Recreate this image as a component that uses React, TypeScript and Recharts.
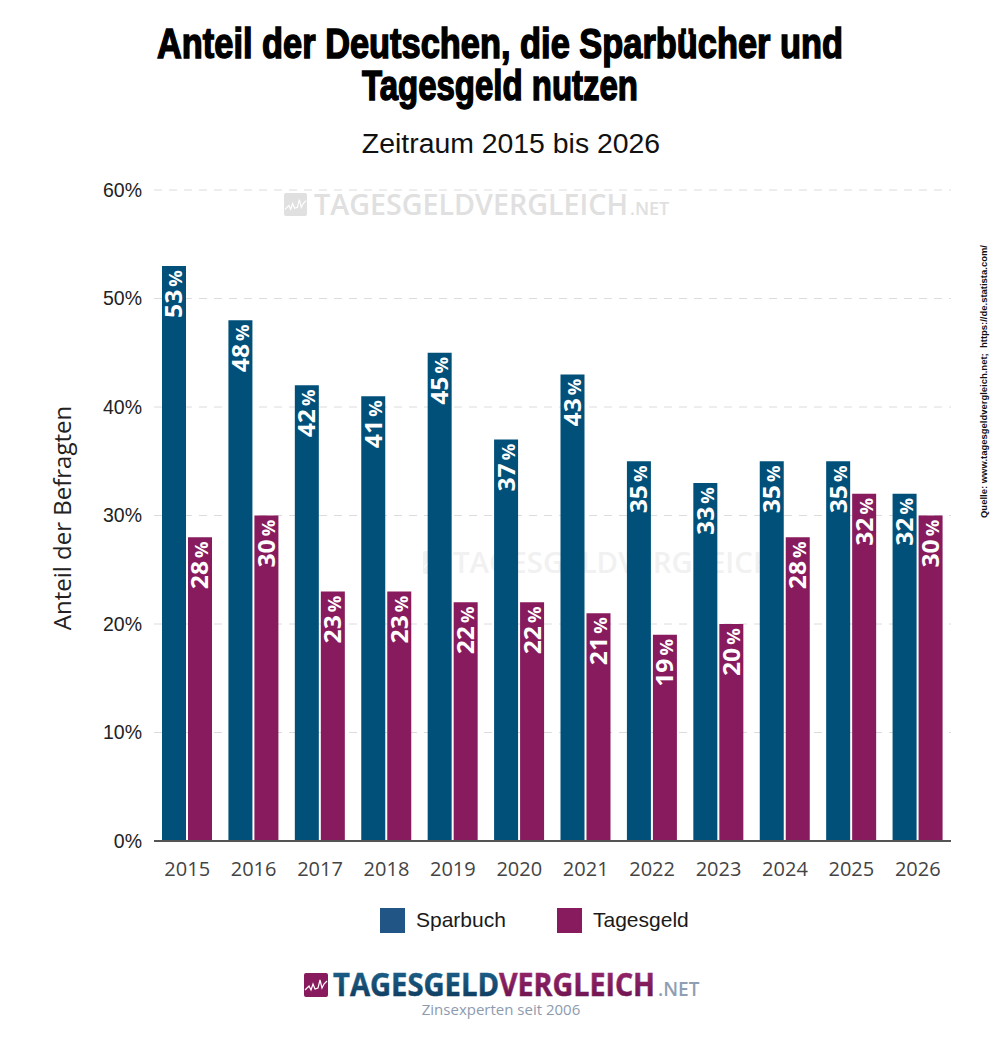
import { BarChart, Bar, XAxis, YAxis, CartesianGrid, LabelList, Legend } from 'recharts';

const YEARS = ['2015', '2016', '2017', '2018', '2019', '2020', '2021', '2022', '2023', '2024', '2025', '2026'];
const SPARBUCH = [53, 48, 42, 41, 45, 37, 43, 35, 33, 35, 35, 32];
const TAGESGELD = [28, 30, 23, 23, 22, 22, 21, 19, 20, 28, 32, 30];
const Y_TICKS = [0, 10, 20, 30, 40, 50, 60];

const BAR_BLUE = '#00507a';
const BAR_PURPLE = '#871b5d';
const LEGEND_ITEMS = [
  { name: 'Sparbuch', color: '#205585' },
  { name: 'Tagesgeld', color: '#871b5d' },
];

const data = YEARS.map((year, i) => ({
  year,
  Sparbuch: SPARBUCH[i],
  Tagesgeld: TAGESGELD[i],
}));

const ARIAL = '"Liberation Sans", Arial, sans-serif';
const OPEN = '"Open Sans", sans-serif';
const NARROW = '"Liberation Sans Narrow", "Liberation Sans", sans-serif';

function BarLabel({ x, y, width, value }: any) {
  const cx = x + width / 2 + 8.5;
  const top = y + 4;
  return (
    <text
      x={cx}
      y={top}
      transform={`rotate(-90 ${cx} ${top})`}
      textAnchor="end"
      fill="#fff"
      fontFamily={OPEN}
      fontWeight={700}
      fontSize={24}
      textLength={48}
      lengthAdjust="spacingAndGlyphs"
    >
      {value}
      <tspan fontSize={18} dx={3}>%</tspan>
    </text>
  );
}

function LegendBox() {
  return (
    <svg width={400} height={30} style={{ display: 'block' }}>
      <rect x={0} y={2} width={25} height={25} fill={LEGEND_ITEMS[0].color} />
      <text x={36} y={21} fontFamily={ARIAL} fontSize={21} fill="#1a1a1a">{LEGEND_ITEMS[0].name}</text>
      <rect x={177} y={2} width={25} height={25} fill={LEGEND_ITEMS[1].color} />
      <text x={213} y={21} fontFamily={ARIAL} fontSize={21} fill="#1a1a1a">{LEGEND_ITEMS[1].name}</text>
    </svg>
  );
}

function LogoIcon({ x, y, size, fill }: { x: number; y: number; size: number; fill: string }) {
  const k = size / 24;
  return (
    <g transform={`translate(${x} ${y}) scale(${k})`}>
      <rect width={24} height={24} rx={2} fill={fill} />
      <path d="M1 17 L5 13 L7 17 L9 11 L11 16 L14 15 L16 7 L18 15 L20 11 L23 8" fill="none" stroke="#fff" strokeWidth={1.2} />
    </g>
  );
}

export default function App() {
  return (
    <div style={{ position: 'absolute', left: 0, top: 0, width: 1000, height: 1037, background: '#fff' }}>
      <BarChart
        width={1000}
        height={1037}
        data={data}
        margin={{ left: 90, right: 49, top: 190, bottom: 126 }}
        barSize={24}
        barGap={2}
      >
        <defs>
          <linearGradient id="logoBlue" x1="0" y1="0" x2="0" y2="1">
            <stop offset="0" stopColor="#1f6a96" />
            <stop offset="1" stopColor="#0c3556" />
          </linearGradient>
          <linearGradient id="logoPurple" x1="0" y1="0" x2="0" y2="1">
            <stop offset="0" stopColor="#a02a72" />
            <stop offset="1" stopColor="#66104a" />
          </linearGradient>
        </defs>

        <text x={500} y={58} textAnchor="middle" fontFamily={NARROW} fontWeight={700} fontSize={42} fill="#000" stroke="#000" strokeWidth={1.5} textLength={686} lengthAdjust="spacingAndGlyphs">
          Anteil der Deutschen, die Sparbücher und
        </text>
        <text x={500} y={100} textAnchor="middle" fontFamily={NARROW} fontWeight={700} fontSize={42} fill="#000" stroke="#000" strokeWidth={1.5} textLength={276} lengthAdjust="spacingAndGlyphs">
          Tagesgeld nutzen
        </text>
        <text x={511} y={153} textAnchor="middle" fontFamily={ARIAL} fontSize={28.4} fill="#111">
          Zeitraum 2015 bis 2026
        </text>

        <LogoIcon x={284} y={193} size={23} fill="#e0e0e0" />
        <text x={314} y={215} fontFamily={OPEN} fontWeight={600} fontSize={29} fill="#e0e0e0" textLength={314} lengthAdjust="spacingAndGlyphs">TAGESGELDVERGLEICH</text>
        <text x={630} y={215} fontFamily={OPEN} fontWeight={600} fontSize={18} fill="#e0e0e0">.NET</text>
        <LogoIcon x={423} y={551} size={23} fill="#f1f1f1" />
        <text x={453} y={573} fontFamily={OPEN} fontWeight={600} fontSize={29} fill="#f1f1f1" textLength={322} lengthAdjust="spacingAndGlyphs">TAGESGELDVERGLEICH</text>

        <CartesianGrid horizontal vertical={false} stroke="#dcdcdc" strokeDasharray="8 7" />
        <XAxis
          dataKey="year"
          axisLine={{ stroke: '#555', strokeWidth: 2 }}
          tickLine={false}
          tick={{ fontFamily: OPEN, fontSize: 20, fill: '#444' }}
          tickMargin={15}
          interval={0}
          height={40}
        />
        <YAxis
          type="number"
          domain={[0, 60]}
          ticks={Y_TICKS}
          width={64}
          axisLine={false}
          tickLine={false}
          tickFormatter={(v) => `${v}%`}
          tick={{ fontFamily: ARIAL, fontSize: 19.5, fill: '#222' }}
          tickMargin={6}
          interval={0}
        />
        <Bar dataKey="Sparbuch" fill={BAR_BLUE} isAnimationActive={false}>
          <LabelList dataKey="Sparbuch" content={BarLabel} />
        </Bar>
        <Bar dataKey="Tagesgeld" fill={BAR_PURPLE} isAnimationActive={false}>
          <LabelList dataKey="Tagesgeld" content={BarLabel} />
        </Bar>
        <Legend
          content={LegendBox}
          wrapperStyle={{ position: 'absolute', left: 380, top: 906, width: 400, height: 30 }}
        />

        <text x={71} y={518} transform="rotate(-90 71 518)" textAnchor="middle" fontFamily={OPEN} fontSize={24} fill="#222">
          Anteil der Befragten
        </text>

        <text x={987} y={518} transform="rotate(-90 987 518)" fontFamily={ARIAL} fontWeight={700} fontSize={9} fill="#111" xmlSpace="preserve" textLength={273} lengthAdjust="spacingAndGlyphs">
          Quelle: www.tagesgeldvergleich.net;  https://de.statista.com/
        </text>

        <LogoIcon x={304} y={973} size={24} fill={BAR_PURPLE} />
        <text x={333} y={996} fontFamily={OPEN} fontWeight={700} fontSize={32} fill="url(#logoBlue)" stroke="url(#logoBlue)" strokeWidth={0.5} textLength={166} lengthAdjust="spacingAndGlyphs">TAGESGELD</text>
        <text x={499} y={996} fontFamily={OPEN} fontWeight={700} fontSize={32} fill="url(#logoPurple)" stroke="url(#logoPurple)" strokeWidth={0.5} textLength={156} lengthAdjust="spacingAndGlyphs">VERGLEICH</text>
        <text x={658} y={996} fontFamily={OPEN} fontWeight={600} fontSize={19} fill="#8f9fb3">.NET</text>
        <text x={501} y={1015} textAnchor="middle" fontFamily={OPEN} fontSize={15} fill="#8d9bb0">Zinsexperten seit 2006</text>
      </BarChart>
    </div>
  );
}
